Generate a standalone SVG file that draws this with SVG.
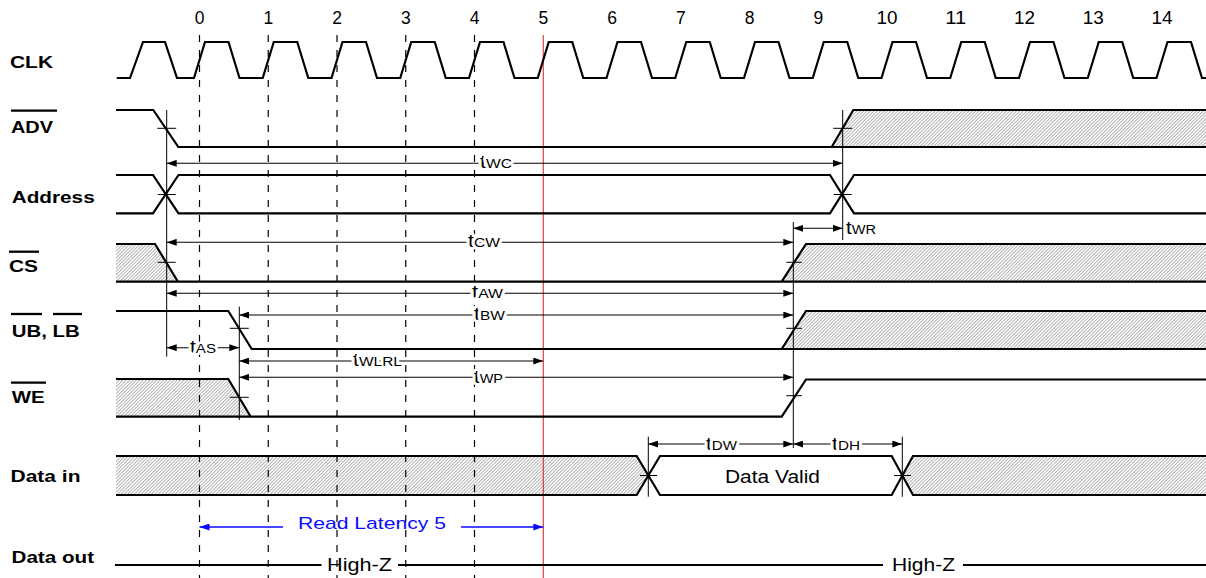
<svg xmlns="http://www.w3.org/2000/svg" width="1206" height="578" viewBox="0 0 1206 578">
<defs>
<style>
.wave{fill:none;stroke:#000;stroke-width:2.2;stroke-linejoin:miter}
.hatch{fill:url(#hatch);stroke:none}
.thin{fill:none;stroke:#000;stroke-width:1}
.dim{fill:none;stroke:#000;stroke-width:1.1}
.dash{fill:none;stroke:#000;stroke-width:1.2;stroke-dasharray:7 8}
.lbl{font-family:"Liberation Sans",Arial,Helvetica,sans-serif;font-weight:bold;font-size:17px;fill:#000}
.t{font-family:"Liberation Sans",Arial,Helvetica,sans-serif;font-size:17.5px;fill:#000}
.sub{font-size:12.5px}
.halo{paint-order:stroke;stroke:#fff;stroke-width:5;stroke-linejoin:round}
.ov{stroke:#000;stroke-width:2.3}
.num{text-anchor:middle}
</style>
<pattern id="hatch" patternUnits="userSpaceOnUse" width="2.4" height="2.4" patternTransform="rotate(45)">
<rect width="2.4" height="2.4" fill="#fff"/>
<line x1="0.5" y1="0" x2="0.5" y2="2.4" stroke="#a0a0a0" stroke-width="0.8"/>
</pattern>
<marker id="ah" viewBox="0 0 10 7" refX="10" refY="3.5" markerWidth="10" markerHeight="7" markerUnits="userSpaceOnUse" orient="auto-start-reverse">
<path d="M0,0 L10,3.5 L0,7 z" fill="#000"/>
</marker>
<marker id="ahb" viewBox="0 0 10 7" refX="10" refY="3.5" markerWidth="10" markerHeight="7" markerUnits="userSpaceOnUse" orient="auto-start-reverse">
<path d="M0,0 L10,3.5 L0,7 z" fill="#0a0aff"/>
</marker>
</defs>
<rect width="1206" height="578" fill="#fff"/>

<g id="cycle-numbers" class="t num">
<text x="199.5" y="24">0</text>
<text x="268.25" y="24">1</text>
<text x="337" y="24">2</text>
<text x="405.75" y="24">3</text>
<text x="474.5" y="24">4</text>
<text x="543.25" y="24">5</text>
<text x="612" y="24">6</text>
<text x="680.75" y="24">7</text>
<text x="749.5" y="24">8</text>
<text x="818.25" y="24">9</text>
<text x="887" y="24" textLength="21" lengthAdjust="spacingAndGlyphs">10</text>
<text x="955.75" y="24" textLength="21" lengthAdjust="spacingAndGlyphs">11</text>
<text x="1024.5" y="24" textLength="21" lengthAdjust="spacingAndGlyphs">12</text>
<text x="1093.25" y="24" textLength="21" lengthAdjust="spacingAndGlyphs">13</text>
<text x="1162" y="24" textLength="21" lengthAdjust="spacingAndGlyphs">14</text>
</g>

<g id="hatching">
<polygon class="hatch" points="831.7,147 853.3,110 1206,110 1206,147"/>
<polygon class="hatch" points="116,244 155,244 178,281.7 116,281.7"/>
<polygon class="hatch" points="781.7,281.7 806,244 1206,244 1206,281.7"/>
<polygon class="hatch" points="781.7,349 806,311 1206,311 1206,349"/>
<polygon class="hatch" points="116,379 228.3,379 250.7,416.7 116,416.7"/>
<polygon class="hatch" points="116,456 636.7,456 648.3,475.5 636.7,495 116,495"/>
<polygon class="hatch" points="913,456 1206,456 1206,495 913,495 902.3,475.5"/>
</g>

<g id="grid">
<line class="dash" x1="199.5" y1="35" x2="199.5" y2="578"/>
<line class="dash" x1="268.25" y1="35" x2="268.25" y2="578"/>
<line class="dash" x1="337" y1="35" x2="337" y2="578"/>
<line class="dash" x1="405.75" y1="35" x2="405.75" y2="578"/>
<line class="dash" x1="474.5" y1="35" x2="474.5" y2="578"/>
<line x1="543.25" y1="35" x2="543.25" y2="578" stroke="#d40000" stroke-width="0.9"/>
</g>

<g id="clk">
<text class="lbl" x="10" y="68" textLength="43" lengthAdjust="spacingAndGlyphs">CLK</text>
<path class="wave" d="M116.7,78 L130,78 L143,42 L165,42 L177,78
L194,78 L205,42 L228.5,42 L239.5,78
L262.75,78 L273.75,42 L297.25,42 L308.25,78
L331.5,78 L342.5,42 L366,42 L377,78
L400.25,78 L411.25,42 L434.75,42 L445.75,78
L469,78 L480,42 L503.5,42 L514.5,78
L537.75,78 L548.75,42 L572.25,42 L583.25,78
L606.5,78 L617.5,42 L641,42 L652,78
L675.25,78 L686.25,42 L709.75,42 L720.75,78
L744,78 L755,42 L778.5,42 L789.5,78
L812.75,78 L823.75,42 L847.25,42 L858.25,78
L881.5,78 L892.5,42 L916,42 L927,78
L950.25,78 L961.25,42 L984.75,42 L995.75,78
L1019,78 L1030,42 L1053.5,42 L1064.5,78
L1087.75,78 L1098.75,42 L1122.25,42 L1133.25,78
L1156.5,78 L1167.5,42 L1191,42 L1202,78 L1206,78"/>
</g>

<g id="adv">
<text class="lbl" x="11" y="132.7" textLength="42" lengthAdjust="spacingAndGlyphs">ADV</text>
<line class="ov" x1="11" y1="110.7" x2="57" y2="110.7"/>
<path class="wave" d="M116,110 L153.3,110 L178.3,147 L1206,147 M831.7,147 L853.3,110 L1206,110"/>
</g>

<g id="address">
<text class="lbl" x="11.7" y="203" textLength="83" lengthAdjust="spacingAndGlyphs">Address</text>
<path class="wave" d="M116,175 L153,175 L178.5,213.3 L830,213.3 L854,175 L1206,175 M116,213.3 L153,213.3 L178.5,175 L830,175 L854,213.3 L1206,213.3"/>
</g>

<g id="cs">
<text class="lbl" x="9" y="272.3" textLength="29" lengthAdjust="spacingAndGlyphs">CS</text>
<line class="ov" x1="9" y1="251.7" x2="39" y2="251.7"/>
<path class="wave" d="M116,244 L155,244 L178,281.7 M116,281.7 L1206,281.7 M781.7,281.7 L806,244 L1206,244"/>
</g>

<g id="ub-lb">
<text class="lbl" x="11.7" y="336.7" textLength="68" lengthAdjust="spacingAndGlyphs">UB, LB</text>
<line class="ov" x1="11" y1="314" x2="42" y2="314"/>
<line class="ov" x1="53" y1="314" x2="82" y2="314"/>
<path class="wave" d="M116,311 L228.3,311 L251.7,349 L1206,349 M781.7,349 L806,311 L1206,311"/>
</g>

<g id="we">
<text class="lbl" x="11.7" y="403.3" textLength="33" lengthAdjust="spacingAndGlyphs">WE</text>
<line class="ov" x1="11" y1="382.7" x2="46" y2="382.7"/>
<path class="wave" d="M116,379 L228.3,379 L250.7,416.7 M116,416.7 L781.7,416.7 L806,379.5 L1206,379.5"/>
</g>

<g id="data-in">
<text class="lbl" x="10.5" y="482" textLength="70" lengthAdjust="spacingAndGlyphs">Data in</text>
<path class="wave" d="M116,456 L636.7,456 L660,495 L891.7,495 L913,456 L1206,456 M116,495 L636.7,495 L660,456 L891.7,456 L913,495 L1206,495"/>
<text class="t" x="725" y="482.5" textLength="95" lengthAdjust="spacingAndGlyphs">Data Valid</text>
</g>

<g id="data-out">
<text class="lbl" x="11.5" y="563" textLength="82.5" lengthAdjust="spacingAndGlyphs">Data out</text>
<path class="wave" d="M115,565 L321.5,565 M398,565 L883,565 M963,565 L1206,565" stroke-width="2"/>
<text class="t" x="327" y="571" textLength="65" lengthAdjust="spacingAndGlyphs">High-Z</text>
<text class="t" x="892" y="571" textLength="63" lengthAdjust="spacingAndGlyphs">High-Z</text>
</g>

<g id="connectors">
<line class="thin" x1="166.7" y1="110" x2="166.7" y2="356.7"/>
<line class="thin" x1="239.3" y1="306.7" x2="239.3" y2="420"/>
<line class="thin" x1="842.7" y1="110" x2="842.7" y2="240"/>
<line class="thin" x1="793.3" y1="222" x2="793.3" y2="448"/>
<line class="thin" x1="648.3" y1="436.7" x2="648.3" y2="496.7"/>
<line class="thin" x1="902.3" y1="436.7" x2="902.3" y2="496.7"/>
<path class="thin" d="M157.2,128.3 H176.2 M157.7,194.5 H175.7 M157.7,262.3 H175.7 M229.8,328.3 H248.8 M229.8,397.3 H248.8 M833.2,128.3 H852.2 M833.7,194.5 H851.7 M786.3,262.3 H801.8 M786.3,328.3 H801.8 M786.3,395.7 H801.8 M640,475.5 H657 M894,475.5 H911"/>
<line class="dim" x1="166.7" y1="163.3" x2="842.7" y2="163.3" marker-start="url(#ah)" marker-end="url(#ah)"/>
<line class="dim" x1="793.3" y1="228.3" x2="842.7" y2="228.3" marker-start="url(#ah)" marker-end="url(#ah)"/>
<line class="dim" x1="166.7" y1="242.3" x2="793.3" y2="242.3" marker-start="url(#ah)" marker-end="url(#ah)"/>
<line class="dim" x1="166.7" y1="293.3" x2="793.3" y2="293.3" marker-start="url(#ah)" marker-end="url(#ah)"/>
<line class="dim" x1="239.3" y1="315" x2="793.3" y2="315" marker-start="url(#ah)" marker-end="url(#ah)"/>
<line class="dim" x1="166.7" y1="347.7" x2="239.3" y2="347.7" marker-start="url(#ah)" marker-end="url(#ah)"/>
<line class="dim" x1="239.3" y1="361" x2="543.3" y2="361" marker-start="url(#ah)" marker-end="url(#ah)"/>
<line class="dim" x1="239.3" y1="377.3" x2="793.3" y2="377.3" marker-start="url(#ah)" marker-end="url(#ah)"/>
<line class="dim" x1="648.3" y1="444" x2="793.3" y2="444" marker-start="url(#ah)" marker-end="url(#ah)"/>
<line class="dim" x1="793.3" y1="444" x2="902.3" y2="444" marker-start="url(#ah)" marker-end="url(#ah)"/>
<line x1="199.5" y1="527" x2="283" y2="527" stroke="#0a0aff" stroke-width="1.3" marker-start="url(#ahb)"/>
<line x1="461" y1="527" x2="543.3" y2="527" stroke="#0a0aff" stroke-width="1.3" marker-end="url(#ahb)"/>
</g>

<g id="timing-labels" class="t">
<text class="t halo" x="480" y="167.5" textLength="32" lengthAdjust="spacingAndGlyphs">t<tspan class="sub">WC</tspan></text>
<text class="t" x="846" y="234" textLength="30" lengthAdjust="spacingAndGlyphs">t<tspan class="sub">WR</tspan></text>
<text class="t halo" x="468" y="247" textLength="32" lengthAdjust="spacingAndGlyphs">t<tspan class="sub">CW</tspan></text>
<text class="t halo" x="472" y="298" textLength="31" lengthAdjust="spacingAndGlyphs">t<tspan class="sub">AW</tspan></text>
<text class="t halo" x="474" y="320" textLength="31" lengthAdjust="spacingAndGlyphs">t<tspan class="sub">BW</tspan></text>
<text class="t halo" x="190" y="353" textLength="26" lengthAdjust="spacingAndGlyphs">t<tspan class="sub">AS</tspan></text>
<text class="t halo" x="353" y="366" textLength="49" lengthAdjust="spacingAndGlyphs">t<tspan class="sub">WLRL</tspan></text>
<text class="t halo" x="474" y="382.5" textLength="29" lengthAdjust="spacingAndGlyphs">t<tspan class="sub">WP</tspan></text>
<text class="t halo" x="706" y="449.5" textLength="31" lengthAdjust="spacingAndGlyphs">t<tspan class="sub">DW</tspan></text>
<text class="t halo" x="832" y="449.5" textLength="28" lengthAdjust="spacingAndGlyphs">t<tspan class="sub">DH</tspan></text>
<text x="298" y="528.5" textLength="148" lengthAdjust="spacingAndGlyphs" style="font-family:'Liberation Sans',Arial,sans-serif;font-size:17px;fill:#0a0aff">Read Latency 5</text>
</g>
</svg>
